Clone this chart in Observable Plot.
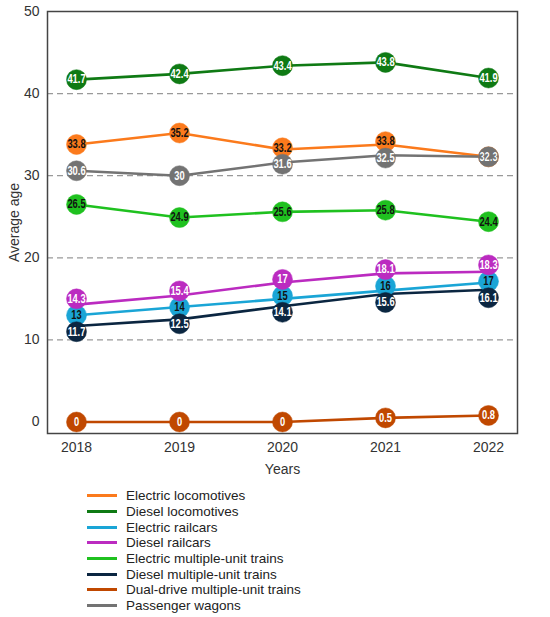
<!DOCTYPE html>
<html>
<head>
<meta charset="utf-8">
<script src="https://cdn.jsdelivr.net/npm/d3@7"></script>
<script src="https://cdn.jsdelivr.net/npm/@observablehq/plot@0.6"></script>
<style>
  body { margin: 0; background: #fff; font-family: "Liberation Sans", Arial, sans-serif; }
  #chart { width: 550px; }
  .leyenda { margin: 8px 0 0 87px; font-size: 13.5px; color: #222; }
  .leyenda div { display: flex; align-items: center; height: 15.7px; }
  .leyenda span.linea { display: inline-block; width: 30px; height: 3px; margin-right: 9px; }
</style>
</head>
<body>
<div id="chart"></div>
<script>
// años y series (edad media)
const years = ["2018", "2019", "2020", "2021", "2022"];
const series = [
  "Electric locomotives",
  "Diesel locomotives",
  "Electric railcars",
  "Diesel railcars",
  "Electric multiple-unit trains",
  "Diesel multiple-unit trains",
  "Dual-drive multiple-unit trains",
  "Passenger wagons"
];
const colors = ["#fb7a1c", "#0f7a14", "#1aa5d6", "#bb2bc0", "#1fc11f", "#0b2641", "#c04800", "#737373"];
const labelColors = ["#111", "#fff", "#111", "#fff", "#111", "#fff", "#fff", "#fff"];
const electricLoco = [33.8, 35.2, 33.2, 33.8, 32.3];
const dieselLoco = [41.7, 42.4, 43.4, 43.8, 41.9];
const electricRailcars = [13, 14, 15, 16, 17];
const dieselRailcars = [14.3, 15.4, 17, 18.1, 18.3];
const electricMU = [26.5, 24.9, 25.6, 25.8, 24.4];
const dieselMU = [11.7, 12.5, 14.1, 15.6, 16.1];
const dualMU = [0, 0, 0, 0.5, 0.8];
const wagons = [30.6, 30, 31.6, 32.5, 32.3];
const yTicks = [0, 10, 20, 30, 40, 50];

const valores = [electricLoco, dieselLoco, electricRailcars, dieselRailcars, electricMU, dieselMU, dualMU, wagons];
const datos = [];
series.forEach((s, i) => {
  valores[i].forEach((v, j) => datos.push({ serie: s, year: years[j], value: v, txt: labelColors[i], ly: v }));
});

// separar etiquetas que se pisan dentro de cada año (valores iguales quedan juntos)
const sep = 2.0;
years.forEach((yr) => {
  const grupo = datos.filter((d) => d.year === yr).sort((a, b) => b.value - a.value);
  for (let it = 0; it < 60; it++) {
    for (let k = 0; k < grupo.length - 1; k++) {
      const a = grupo[k], b = grupo[k + 1];
      if (a.value === b.value) continue;
      const gap = a.ly - b.ly;
      if (gap < sep) {
        const m = (sep - gap) / 2;
        a.ly += m;
        b.ly -= m;
      }
    }
  }
});

const plot = Plot.plot({
  width: 550,
  height: 480,
  marginLeft: 47,
  marginRight: 33,
  marginTop: 11,
  marginBottom: 47,
  style: { fontFamily: "Liberation Sans, Arial, sans-serif", fontSize: "14px", color: "#333", background: "#fff" },
  x: { type: "point", domain: years, padding: 0.28, label: "Years", labelAnchor: "center", labelOffset: 40, tickSize: 0, tickPadding: 9 },
  y: { domain: [-1.4, 50], ticks: yTicks, label: "Average age", labelAnchor: "center", labelOffset: 38, labelArrow: "none", tickSize: 0, tickPadding: 8 },
  color: { domain: series, range: colors },
  marks: [
    Plot.ruleY(yTicks.filter((d) => d > 0 && d < 50), { stroke: "#999", strokeDasharray: "6 4", strokeWidth: 1.2 }),
    Plot.line(datos, { x: "year", y: "value", z: "serie", stroke: "serie", strokeWidth: 2.6 }),
    Plot.dot(datos, { x: "year", y: "ly", fill: "serie", r: 10, stroke: "serie", strokeWidth: 0.5 }),
    Plot.text(datos, {
      x: "year", y: "ly", text: (d) => String(d.value), fill: "txt",
      fontSize: 12, fontWeight: "bold", fontFamily: "Liberation Sans, Arial, sans-serif",
      className: "etiq"
    }),
    Plot.frame({ stroke: "#444", strokeWidth: 1.5 })
  ]
});
document.getElementById("chart").appendChild(plot);

// estrechar las etiquetas de los círculos (sin tocar su posición)
plot.querySelectorAll(".etiq text").forEach((t) => {
  const largo = t.getComputedTextLength();
  if (largo > 0) {
    t.setAttribute("lengthAdjust", "spacingAndGlyphs");
    t.setAttribute("textLength", (largo * 0.78).toFixed(1));
  }
});

// leyenda
const leyenda = document.createElement("div");
leyenda.className = "leyenda";
series.forEach((s, i) => {
  const fila = document.createElement("div");
  fila.innerHTML = `<span class="linea" style="background:${colors[i]}"></span>${s}`;
  leyenda.appendChild(fila);
});
document.getElementById("chart").appendChild(leyenda);
</script>
</body>
</html>
